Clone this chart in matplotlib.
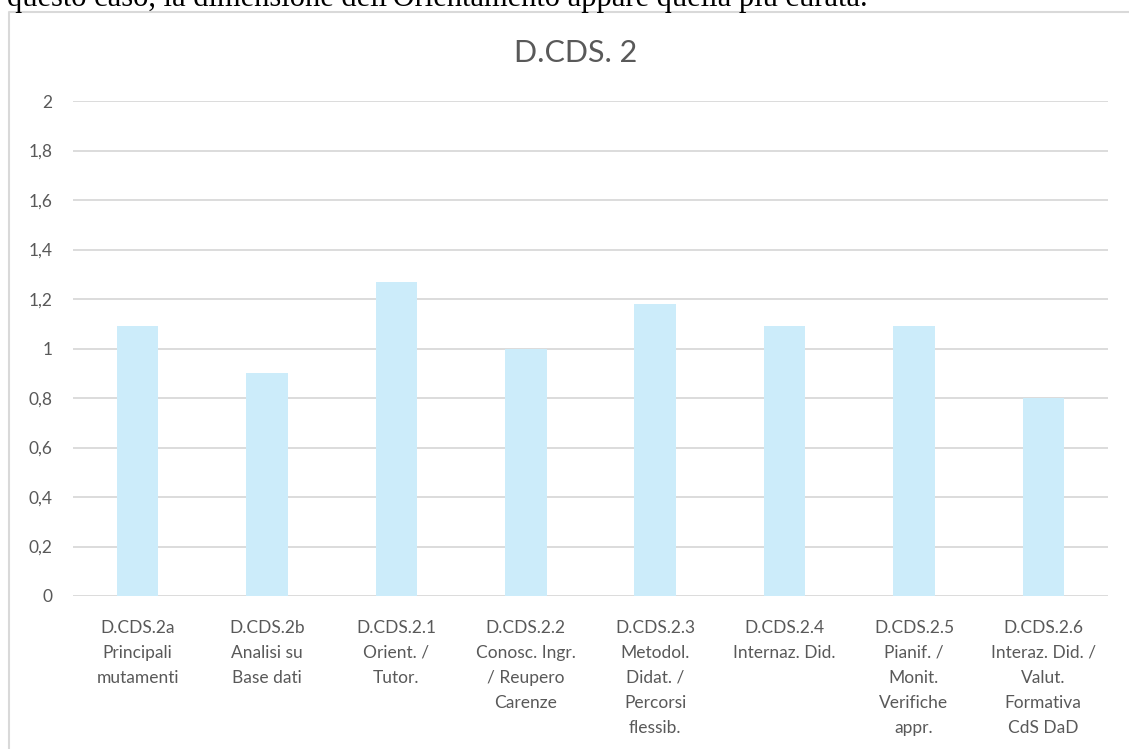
import matplotlib
matplotlib.use("Agg")
import matplotlib.pyplot as plt
from matplotlib.lines import Line2D
from matplotlib.ticker import FuncFormatter

categories = [
    "D.CDS.2a\nPrincipali\nmutamenti",
    "D.CDS.2b\nAnalisi su\nBase dati",
    "D.CDS.2.1\nOrient. /\nTutor.",
    "D.CDS.2.2\nConosc. Ingr.\n/ Reupero\nCarenze",
    "D.CDS.2.3\nMetodol.\nDidat. /\nPercorsi\nflessib.",
    "D.CDS.2.4\nInternaz. Did.",
    "D.CDS.2.5\nPianif. /\nMonit.\nVerifiche\nappr.",
    "D.CDS.2.6\nInteraz. Did. /\nValut.\nFormativa\nCdS DaD",
]
values = [1.09, 0.90, 1.27, 1.00, 1.18, 1.09, 1.09, 0.80]
y_ticks = [0, 0.2, 0.4, 0.6, 0.8, 1.0, 1.2, 1.4, 1.6, 1.8, 2.0]

text_col = "#595959"
grid_col = "#D9D9D9"
bar_col = "#CCECFA"
font = ["Lato", "DejaVu Sans"]

W, H = 1129, 749
fig = plt.figure(figsize=(W / 100, H / 100), dpi=100)
fig.patch.set_facecolor("white")

# body text of the page, cut off by the top edge
fig.text(7 / W, 1 - 6 / H,
         "questo caso, la dimensione dell'Orientamento appare quella più curata.",
         family="Liberation Serif", fontsize=22, color="black",
         ha="left", va="baseline")

# chart frame (left and top edges only are visible)
fig.add_artist(Line2D([8.5 / W, 8.5 / W, 1.0], [0.0, 1 - 11.5 / H, 1 - 11.5 / H],
                      transform=fig.transFigure, color=grid_col, lw=1.5))

ax = fig.add_axes([73 / W, 1 - 596 / H, (1108 - 73) / W, (596 - 101) / H])
x = list(range(len(categories)))
ax.bar(x, values, width=0.32, color=bar_col, zorder=2)

ax.set_xlim(-0.5, len(categories) - 0.5)
ax.set_ylim(0, 2)
ax.set_yticks(y_ticks)
ax.yaxis.set_major_formatter(FuncFormatter(lambda v, p: f"{v:g}".replace(".", ",")))
ax.grid(axis="y", color=grid_col, lw=1.3, zorder=0)
ax.set_axisbelow(True)
for s in ax.spines.values():
    s.set_visible(False)

ax.set_xticks(x, categories, linespacing=1.7)
ax.tick_params(axis="both", length=0, colors=text_col, labelsize=12.5)
ax.tick_params(axis="y", pad=15)
ax.tick_params(axis="x", pad=17)
for lab in ax.get_xticklabels() + ax.get_yticklabels():
    lab.set_family(font)
    lab.set_color(text_col)

fig.text(576 / W, 1 - 62.3 / H, "D.CDS. 2", family=font, fontsize=22,
         color=text_col, ha="center", va="baseline")

fig.savefig("out.png", dpi=100)
